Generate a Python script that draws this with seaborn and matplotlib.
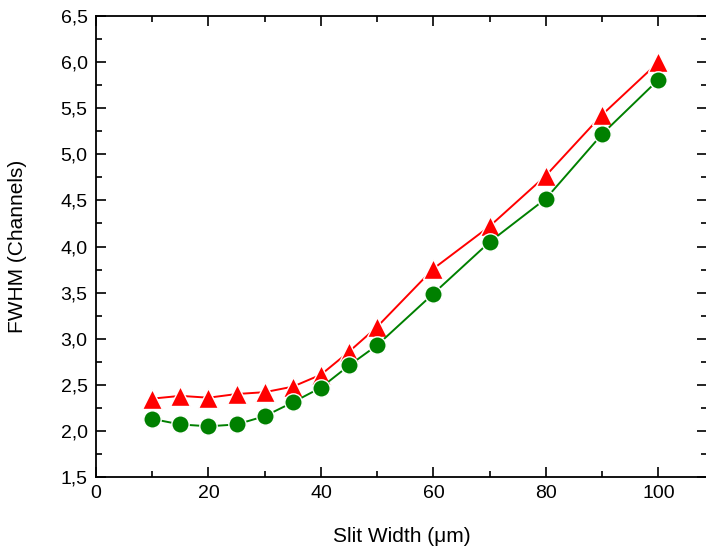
import matplotlib
matplotlib.use("Agg")
import matplotlib.pyplot as plt
import seaborn as sns
import pandas as pd
from matplotlib.ticker import MultipleLocator, FixedLocator, FixedFormatter

slit_width = [10, 15, 20, 25, 30, 35, 40, 45, 50, 60, 70, 80, 90, 100]
fwhm_red = [2.35, 2.38, 2.36, 2.40, 2.42, 2.48, 2.61, 2.86, 3.13, 3.76, 4.22, 4.77, 5.43, 6.00]
fwhm_green = [2.13, 2.07, 2.05, 2.07, 2.16, 2.31, 2.47, 2.71, 2.93, 3.49, 4.05, 4.52, 5.22, 5.81]
y_ticks = [1.5, 2.0, 2.5, 3.0, 3.5, 4.0, 4.5, 5.0, 5.5, 6.0, 6.5]
y_tick_labels = ["1,5", "2,0", "2,5", "3,0", "3,5", "4,0", "4,5", "5,0", "5,5", "6,0", "6,5"]
x_ticks = [0, 20, 40, 60, 80, 100]

sns.set_style("ticks")
plt.rcParams["font.family"] = ["Liberation Sans", "DejaVu Sans"]
for k in ["text.color", "axes.labelcolor", "xtick.color", "ytick.color", "axes.edgecolor"]:
    plt.rcParams[k] = "black"

df = pd.DataFrame({"x": slit_width, "red": fwhm_red, "green": fwhm_green})

fig = plt.figure(figsize=(7.06, 5.5), dpi=100)
ax = fig.add_axes([96 / 706, 1 - 477 / 550, 1 - 96 / 706 + 0.002, (477 - 16) / 550])

sns.lineplot(data=df, x="x", y="red", ax=ax, color="red", marker="^", markersize=15,
             markeredgecolor="white", markeredgewidth=1.0, linewidth=1.4)
sns.lineplot(data=df, x="x", y="green", ax=ax, color="green", marker="o", markersize=12.5,
             markeredgecolor="white", markeredgewidth=1.0, linewidth=1.4)

ax.set_xlim(0, 108.7)
ax.set_ylim(1.5, 6.5)
ax.xaxis.set_major_locator(FixedLocator(x_ticks))
ax.xaxis.set_minor_locator(MultipleLocator(10))
ax.yaxis.set_major_locator(FixedLocator(y_ticks))
ax.yaxis.set_major_formatter(FixedFormatter(y_tick_labels))
ax.yaxis.set_minor_locator(MultipleLocator(0.25))

ax.tick_params(which="both", direction="in", top=True, right=True, labelsize=14, width=1.2)
ax.tick_params(which="major", length=7, pad=6)
ax.tick_params(which="minor", length=4)
for s in ax.spines.values():
    s.set_linewidth(1.3)

ax.set_xlabel("Slit Width (μm)", fontsize=15, labelpad=18)
ax.set_ylabel("FWHM (Channels)", fontsize=15, labelpad=24)

fig.savefig("out.png", dpi=100)
